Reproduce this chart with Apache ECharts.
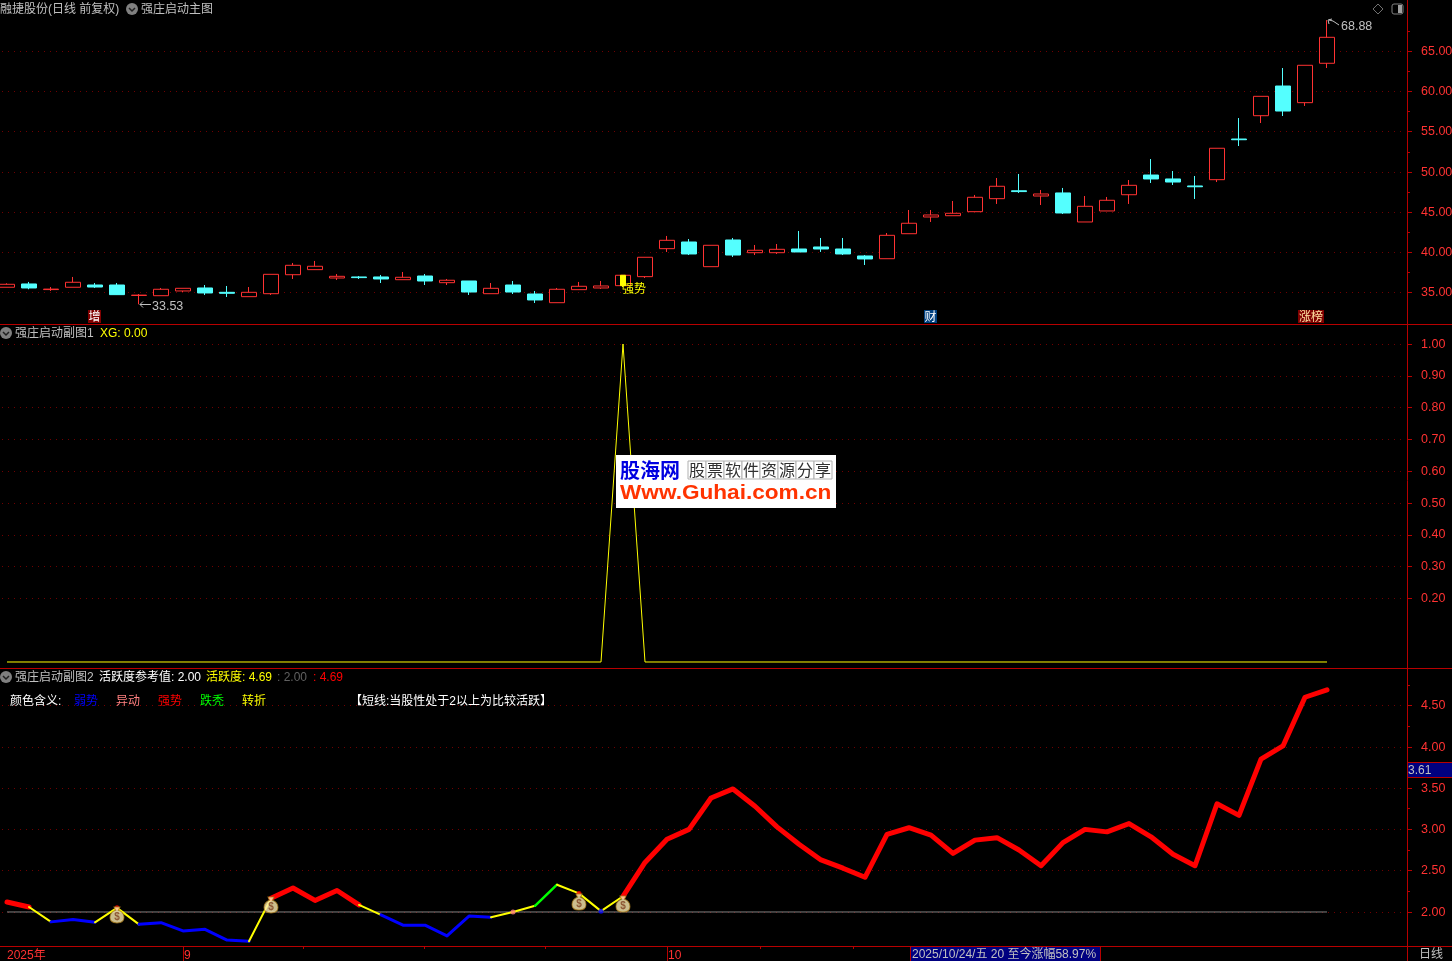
<!DOCTYPE html>
<html>
<head>
<meta charset="utf-8">
<title>强庄启动</title>
<style>
  html, body { margin: 0; padding: 0; background: #000; }
  #chart { width: 1452px; height: 961px; }
</style>
<script src="https://cdn.jsdelivr.net/npm/echarts@6/dist/echarts.min.js"></script>
</head>
<body>
<div id="chart"></div>
<script>
// trading days, three empty slots after the last bar
const days = ['2025/8/20', '2025/8/21', '2025/8/22', '2025/8/25', '2025/8/26', '2025/8/27', '2025/8/28', '2025/8/29',
  '2025/9/1', '2025/9/2', '2025/9/3', '2025/9/4', '2025/9/5', '2025/9/8', '2025/9/9', '2025/9/10', '2025/9/11', '2025/9/12',
  '2025/9/15', '2025/9/16', '2025/9/17', '2025/9/18', '2025/9/19', '2025/9/22', '2025/9/23', '2025/9/24', '2025/9/25', '2025/9/26',
  '2025/9/29', '2025/9/30', '2025/10/9', '2025/10/10', '2025/10/13', '2025/10/14', '2025/10/15', '2025/10/16', '2025/10/17',
  '2025/10/20', '2025/10/21', '2025/10/22', '2025/10/23', '2025/10/24', '2025/10/27', '2025/10/28', '2025/10/29', '2025/10/30', '2025/10/31',
  '2025/11/3', '2025/11/4', '2025/11/5', '2025/11/6', '2025/11/7', '2025/11/10', '2025/11/11', '2025/11/12', '2025/11/13', '2025/11/14',
  '2025/11/17', '2025/11/18', '2025/11/19', '2025/11/20', ' ', '  ', '   ']

const priceOpen = [35.65, 36.06, 35.36, 35.65, 35.93, 35.93, 34.63, 34.60, 35.19, 35.56, 35.02, 34.48, 34.85, 37.21, 37.84, 36.80,
  36.93, 36.93, 36.59, 37.05, 36.22, 36.43, 34.85, 35.93, 34.81, 33.73, 35.35, 35.56, 35.85, 36.97, 40.45, 41.28, 38.21, 41.53,
  39.95, 39.95, 40.41, 40.66, 40.41, 39.54, 39.20, 42.31, 44.39, 44.55, 45.05, 46.67, 47.65, 47.00, 47.38, 43.77, 45.14, 47.16,
  49.61, 49.12, 48.25, 49.03, 54.09, 56.99, 60.68, 58.61, 63.51]
const priceClose = [36.02, 35.56, 35.42, 36.27, 35.68, 34.73, 34.67, 35.40, 35.52, 34.94, 34.90, 35.02, 37.26, 38.38, 38.26, 37.01,
  36.85, 36.68, 36.89, 36.43, 36.52, 35.06, 35.52, 35.06, 34.07, 35.40, 35.77, 35.81, 37.14, 39.38, 41.49, 39.79, 40.87, 39.66,
  40.25, 40.37, 40.04, 40.41, 39.79, 39.17, 42.11, 43.61, 44.64, 44.85, 46.84, 48.21, 47.55, 47.25, 44.89, 45.72, 46.47, 48.33,
  49.12, 48.74, 48.15, 52.94, 54.00, 59.40, 57.57, 63.26, 66.74]
const priceLow = [35.65, 35.40, 35.19, 35.65, 35.56, 34.69, 33.53, 34.60, 35.06, 34.69, 34.44, 34.48, 34.69, 36.68, 37.84, 36.55,
  36.68, 36.18, 36.59, 35.93, 35.93, 34.69, 34.85, 34.81, 33.69, 33.73, 35.35, 35.44, 35.68, 36.80, 40.04, 39.66, 38.21, 39.42,
  39.66, 39.79, 40.04, 40.04, 39.66, 38.42, 39.20, 42.31, 43.77, 44.55, 45.05, 46.01, 47.38, 45.88, 44.76, 43.77, 45.14, 46.01,
  48.62, 48.37, 46.63, 48.74, 53.22, 56.08, 56.95, 58.20, 62.92]
const priceHigh = [36.14, 36.31, 35.68, 36.93, 36.18, 36.18, 34.81, 35.56, 35.52, 35.93, 35.81, 35.68, 37.26, 38.67, 38.92, 37.30,
  37.05, 37.18, 37.55, 37.30, 36.68, 36.43, 36.18, 36.43, 35.19, 35.56, 36.31, 36.43, 37.14, 39.38, 42.03, 41.65, 40.87, 41.78,
  40.91, 41.03, 42.65, 41.78, 41.78, 39.66, 42.40, 45.26, 45.26, 46.38, 47.13, 49.24, 49.74, 47.75, 48.00, 47.00, 46.88, 48.99,
  51.60, 50.11, 49.49, 52.94, 56.70, 59.40, 62.92, 63.26, 68.88]

const xgValues = [0, 0, 0, 0, 0, 0, 0, 0, 0, 0, 0, 0, 0, 0, 0, 0, 0, 0, 0, 0, 0, 0, 0, 0, 0, 0, 0, 0, 1, 0, 0, 0, 0, 0, 0, 0, 0, 0, 0, 0,
  0, 0, 0, 0, 0, 0, 0, 0, 0, 0, 0, 0, 0, 0, 0, 0, 0, 0, 0, 0, 0]

const activeValues = [2.12, 2.06, 1.88, 1.91, 1.875, 2.05, 1.85, 1.87, 1.77, 1.79, 1.66, 1.645, 2.165, 2.29, 2.14, 2.26, 2.085, 1.965,
  1.84, 1.84, 1.71, 1.95, 1.935, 2.00, 2.075, 2.33, 2.225, 2.01, 2.19, 2.60, 2.88, 3.00, 3.38, 3.49, 3.28, 3.03, 2.82, 2.63, 2.53,
  2.42, 2.94, 3.02, 2.93, 2.71, 2.87, 2.90, 2.75, 2.56, 2.84, 3.00, 2.97, 3.07, 2.91, 2.70, 2.56, 3.31, 3.17, 3.85, 4.01, 4.60, 4.69]
const refValues = [2, 2, 2, 2, 2, 2, 2, 2, 2, 2, 2, 2, 2, 2, 2, 2, 2, 2, 2, 2, 2, 2, 2, 2, 2, 2, 2, 2, 2, 2, 2, 2, 2, 2, 2, 2, 2, 2, 2, 2,
  2, 2, 2, 2, 2, 2, 2, 2, 2, 2, 2, 2, 2, 2, 2, 2, 2, 2, 2, 2, 2]

// [from bar, to bar, kind] for each coloured run of the activity line
const activeRuns = [[0, 1, 'strong'], [1, 2, 'turn'], [2, 4, 'weak'], [4, 6, 'turn'], [6, 11, 'weak'], [11, 12, 'turn'],
  [12, 16, 'strong'], [16, 17, 'turn'], [17, 22, 'weak'], [22, 24, 'turn'], [24, 25, 'rise'], [25, 28, 'turn'], [28, 60, 'strong']]
// single bars that carry another colour on top of a run: bar, kind
const activeDots = [[5, 'strong'], [23, 'move'], [26, 'strong'], [27, 'weak']]

const bagBars = [5, 12, 26, 28]
const bagValues = [1.964, 2.085, 2.12, 2.097]

const priceTicks = [35, 40, 45, 50, 55, 60, 65]
const priceMinorTicks = [37.5, 42.5, 47.5, 52.5, 57.5, 62.5, 67.5]
const xgTicks = [0.2, 0.3, 0.4, 0.5, 0.6, 0.7, 0.8, 0.9, 1]
const activeTicks = [2, 2.5, 3, 3.5, 4, 4.5]
const activeMinorTicks = [2.25, 2.75, 3.25, 3.75, 4.25, 4.75]
const dateTicks = [13.45, 18.95, 24.45, 34.23, 38.45]
const monthLabels = { 0: '2025年', 8: '9', 30: '10' }
const strongBar = 28

const FONT = '"Liberation Sans","Noto Sans CJK SC",sans-serif'
const RED = '#ff3232'
const CYAN = '#54ffff'
const LINE_RED = '#b80000'
const GRID_RED = '#700000'
const GRAY = '#c0c0c0'
const runStyle = {
  strong: { color: '#ff0000', width: 5 },
  weak: { color: '#0000ff', width: 3 },
  turn: { color: '#ffff00', width: 2 },
  rise: { color: '#00ff00', width: 2.5 },
  move: { color: '#ff8080', width: 3 }
}

const chart = echarts.init(document.getElementById('chart'))

function hline(y, x1, x2) {
  return { type: 'line', z: 50, shape: { x1: x1, y1: y, x2: x2, y2: y }, style: { stroke: LINE_RED, lineWidth: 1 } }
}
function vline(x, y1, y2) {
  return { type: 'line', z: 50, shape: { x1: x, y1: y1, x2: x, y2: y2 }, style: { stroke: LINE_RED, lineWidth: 1 } }
}
function text(x, y, str, color, extra) {
  return {
    type: 'text', z: 60, x: x, y: y + 1,
    style: Object.assign({ text: str, fill: color, font: '12px ' + FONT, verticalAlign: 'middle' }, extra || {})
  }
}
function chevron(x, y) {
  return [
    { type: 'circle', z: 60, shape: { cx: x, cy: y, r: 6 }, style: { fill: '#808080' } },
    { type: 'polyline', z: 61, shape: { points: [[x - 3, y - 1], [x, y + 2], [x + 3, y - 1]] }, style: { fill: 'none', stroke: '#202020', lineWidth: 1.5 } }
  ]
}
function tag(x, w, bg, str, color) {
  return [
    { type: 'rect', z: 60, shape: { x: x, y: 310, width: w, height: 13 }, style: { fill: bg } },
    text(x + w / 2, 317, str, color, { align: 'center' })
  ]
}

function logoCells() {
  const out = []
  const chars = ['股', '票', '软', '件', '资', '源', '分', '享']
  chars.forEach(function(c, i) {
    out.push({ type: 'rect', z: 71, shape: { x: 688 + i * 18, y: 461, width: 18, height: 18 }, style: { fill: '#ffffff', stroke: '#b0b0b0', lineWidth: 1 } })
    out.push(Object.assign(text(697 + i * 18, 469, c, '#303030', { align: 'center', font: '16px "Noto Sans CJK SC"' }), { z: 72 }))
  })
  return out
}

const graphics = [].concat(
  [
    hline(324.5, 0, 1452), hline(668.5, 0, 1452), hline(946.5, 0, 1452),
    vline(1407.5, 0, 961)
  ],
  // top panel captions
  [text(0, 9, '融捷股份(日线 前复权)', GRAY)],
  chevron(132, 9),
  [text(141, 9, '强庄启动主图', GRAY)],
  [
    { type: 'polygon', z: 60, shape: { points: [[1378, 4], [1383, 9], [1378, 14], [1373, 9]] }, style: { fill: 'none', stroke: '#707070', lineWidth: 1 } },
    { type: 'rect', z: 60, shape: { x: 1392, y: 4, width: 11, height: 10, r: 2 }, style: { fill: '#000', stroke: '#808080', lineWidth: 1 } },
    { type: 'rect', z: 61, shape: { x: 1398, y: 5, width: 4, height: 8 }, style: { fill: '#a0a0a0' } },
    // arrows of the high and low notes
    { type: 'polyline', z: 60, shape: { points: [[1329, 20], [1333, 21], [1339, 25]] }, style: { fill: 'none', stroke: GRAY, lineWidth: 1 } },
    { type: 'polyline', z: 60, shape: { points: [[1332, 19], [1328, 20], [1329, 24]] }, style: { fill: 'none', stroke: GRAY, lineWidth: 1 } },
    { type: 'polyline', z: 60, shape: { points: [[140, 304.5], [151, 304.5]] }, style: { fill: 'none', stroke: GRAY, lineWidth: 1 } },
    { type: 'polyline', z: 60, shape: { points: [[143, 301.5], [140, 304.5], [143, 307.5]] }, style: { fill: 'none', stroke: GRAY, lineWidth: 1 } }
  ],
  tag(88, 13, '#800000', '增', '#ffffff'),
  tag(924, 13, '#004080', '财', '#ffffff'),
  tag(1298, 26, '#800000', '涨榜', '#ffe0a0'),
  // middle panel captions
  chevron(6, 333),
  [text(15, 333, '强庄启动副图1', GRAY), text(100, 333, 'XG: 0.00', '#ffff00')],
  // bottom panel captions
  chevron(6, 677),
  [
    text(15, 677, '强庄启动副图2', GRAY),
    text(99, 677, '活跃度参考值: 2.00', '#ffffff'),
    text(206, 677, '活跃度: 4.69', '#ffff00'),
    text(277, 677, ': 2.00', '#606060'),
    text(313, 677, ': 4.69', '#ff0000'),
    text(10, 701, '颜色含义:', '#ffffff'),
    text(74, 701, '弱势', runStyle.weak.color),
    text(116, 701, '异动', runStyle.move.color),
    text(158, 701, '强势', runStyle.strong.color),
    text(200, 701, '跌秃', runStyle.rise.color),
    text(242, 701, '转折', runStyle.turn.color),
    text(350, 701, '【短线:当股性处于2以上为比较活跃】', '#ffffff')
  ],
  // current value box on the axis
  [
    { type: 'rect', z: 60, shape: { x: 1408, y: 763, width: 44, height: 14 }, style: { fill: '#000080' } },
    hline(762.5, 1408, 1452), hline(777.5, 1408, 1452),
    text(1408, 770, '3.61', GRAY)
  ],
  // date box on the time axis
  [
    { type: 'rect', z: 60, shape: { x: 911, y: 947, width: 189, height: 14 }, style: { fill: '#000080' } },
    vline(910.5, 947, 961), vline(1100.5, 947, 961),
    text(912, 954, '2025/10/24/五 20 至今涨幅58.97%', GRAY),
    text(1419, 954, '日线', GRAY)
  ],
  // watermark
  [
    { type: 'rect', z: 70, shape: { x: 616, y: 455, width: 220, height: 53 }, style: { fill: '#ffffff' } },
    Object.assign(text(620, 469, '股海网', '#0000e0', { font: 'bold 20px "Noto Sans CJK SC"' }), { z: 72 }),
    Object.assign(text(620, 492, 'Www.Guhai.com.cn', '#ff3300', { font: 'bold 20px "Liberation Sans"' }), { z: 72, scaleX: 1.13 })
  ],
  logoCells()
)

function valueAxis(gridIndex, min, max, ticks, withLabels, tickLen) {
  return {
    type: 'value', gridIndex: gridIndex, position: 'right', offset: 3, min: min, max: max, scale: true,
    axisLine: { show: false, onZero: false },
    axisTick: { show: true, length: tickLen, customValues: ticks, lineStyle: { color: LINE_RED } },
    axisLabel: {
      show: withLabels, customValues: ticks, margin: 14, color: RED, fontFamily: FONT, fontSize: 12.5,
      verticalAlign: 'top', padding: [-6, 0, 0, 0],
      formatter: function(v) { return v.toFixed(2) }
    },
    splitLine: { show: withLabels, lineStyle: { color: GRID_RED, width: 1, type: [1, 5] } }
  }
}
function hiddenCategory(gridIndex) {
  return { type: 'category', gridIndex: gridIndex, data: days, show: false, boundaryGap: true }
}

const candles = days.slice(0, priceOpen.length).map(function(d, i) {
  return [priceOpen[i], priceClose[i], priceLow[i], priceHigh[i]]
})
const strongCandle = candles.map(function(c, i) {
  return i === strongBar ? c : ['-', '-', '-', '-']
})

const runSeries = activeRuns.map(function(run) {
  const st = runStyle[run[2]]
  return {
    type: 'line', xAxisIndex: 2, yAxisIndex: 3, showSymbol: false, silent: true, z: 5,
    lineStyle: { color: st.color, width: st.width, cap: 'round', join: 'round' },
    data: activeValues.map(function(v, i) { return i >= run[0] && i <= run[1] ? v : null })
  }
})

const option = {
  backgroundColor: '#000000',
  animation: false,
  textStyle: { fontFamily: FONT },
  grid: [
    { left: -4, top: 0, width: 1408, height: 324, outerBoundsMode: 'none' },
    { left: -4, top: 325, width: 1408, height: 343, outerBoundsMode: 'none' },
    { left: -4, top: 669, width: 1408, height: 277, outerBoundsMode: 'none' }
  ],
  xAxis: [
    hiddenCategory(0),
    hiddenCategory(1),
    {
      type: 'category', gridIndex: 2, data: days, boundaryGap: true,
      axisLine: { show: false, onZero: false },
      axisTick: {
        show: true, length: 15, alignWithLabel: true, lineStyle: { color: LINE_RED },
        interval: function(i) { return monthLabels[i] !== undefined && i > 0 }
      },
      axisLabel: {
        show: true, margin: 4, color: RED, fontFamily: FONT, fontSize: 12, align: 'left',
        interval: function(i) { return monthLabels[i] !== undefined },
        formatter: function(v, i) { return i === 0 ? '{a|' + monthLabels[i] + '}' : '{b|' + monthLabels[i] + '}' },
        rich: {
          a: { color: RED, fontFamily: FONT, fontSize: 12 },
          b: { color: RED, fontFamily: FONT, fontSize: 12, padding: [0, 0, 0, 1] }
        }
      }
    },
    {
      type: 'value', gridIndex: 2, min: -0.5, max: 63.5, position: 'bottom',
      axisLine: { show: false, onZero: false }, axisLabel: { show: false }, splitLine: { show: false },
      axisTick: { show: true, length: 3, customValues: dateTicks, lineStyle: { color: LINE_RED } }
    }
  ],
  yAxis: [
    valueAxis(0, 31.08, 71.38, priceTicks, true, 5),
    valueAxis(0, 31.08, 71.38, priceMinorTicks, false, 3),
    valueAxis(1, -0.0189, 1.0597, xgTicks, true, 5),
    valueAxis(2, 1.588, 4.942, activeTicks, true, 5),
    valueAxis(2, 1.588, 4.942, activeMinorTicks, false, 3)
  ],
  series: [
    {
      type: 'candlestick', xAxisIndex: 0, yAxisIndex: 0, barWidth: 16, silent: true, z: 3,
      itemStyle: { color: '#000000', color0: CYAN, borderColor: RED, borderColor0: CYAN, borderWidth: 1 },
      data: candles,
      markPoint: {
        symbol: 'circle', symbolSize: 0, silent: true,
        data: [
          { coord: [6, priceLow[6]], label: { show: true, position: 'right', offset: [8, 2], formatter: '33.53', color: GRAY, fontSize: 12.5, fontFamily: FONT } },
          { coord: [60, priceHigh[60]], label: { show: true, position: 'right', offset: [9, 6], formatter: '68.88', color: GRAY, fontSize: 12.5, fontFamily: FONT } },
          { coord: [strongBar, priceOpen[strongBar]], label: { show: true, position: 'inside', offset: [11, 4], formatter: '强势', color: '#ffff00', fontSize: 12, fontFamily: FONT } }
        ]
      }
    },
    {
      type: 'candlestick', xAxisIndex: 0, yAxisIndex: 0, barWidth: 6, silent: true, z: 4,
      itemStyle: { color: '#ffff00', color0: '#ffff00', borderColor: '#ffff00', borderColor0: '#ffff00', borderWidth: 1 },
      data: strongCandle
    },
    {
      type: 'line', xAxisIndex: 1, yAxisIndex: 2, showSymbol: false, silent: true,
      lineStyle: { color: '#ffff00', width: 1 },
      data: xgValues
    },
    {
      type: 'line', xAxisIndex: 2, yAxisIndex: 3, showSymbol: false, silent: true, z: 2,
      lineStyle: { color: '#808080', width: 1 },
      data: refValues
    }
  ].concat(runSeries, [
    {
      type: 'scatter', xAxisIndex: 2, yAxisIndex: 3, symbol: 'circle', symbolSize: 5, silent: true, z: 6,
      data: activeDots.map(function(d) {
        return { value: [d[0], activeValues[d[0]]], itemStyle: { color: runStyle[d[1]].color } }
      })
    },
    {
      type: 'scatter', xAxisIndex: 2, yAxisIndex: 3, silent: true, z: 7,
      symbol: 'path://M4 1 L10 1 L8.5 4 C12 5 14 8 14 11 C14 14.5 11 16 7 16 C3 16 0 14.5 0 11 C0 8 2 5 5.5 4 Z',
      symbolSize: [14, 16],
      itemStyle: { color: '#ffedb0', borderColor: '#a87818', borderWidth: 1 },
      label: { show: true, position: 'inside', offset: [0, 2], formatter: '$', color: '#804020', fontSize: 10, fontWeight: 'bold', fontFamily: FONT },
      data: bagBars.map(function(b, i) { return [b, bagValues[i]] })
    }
  ]),
  graphic: { elements: graphics }
}

chart.setOption(option)
</script>
</body>
</html>
